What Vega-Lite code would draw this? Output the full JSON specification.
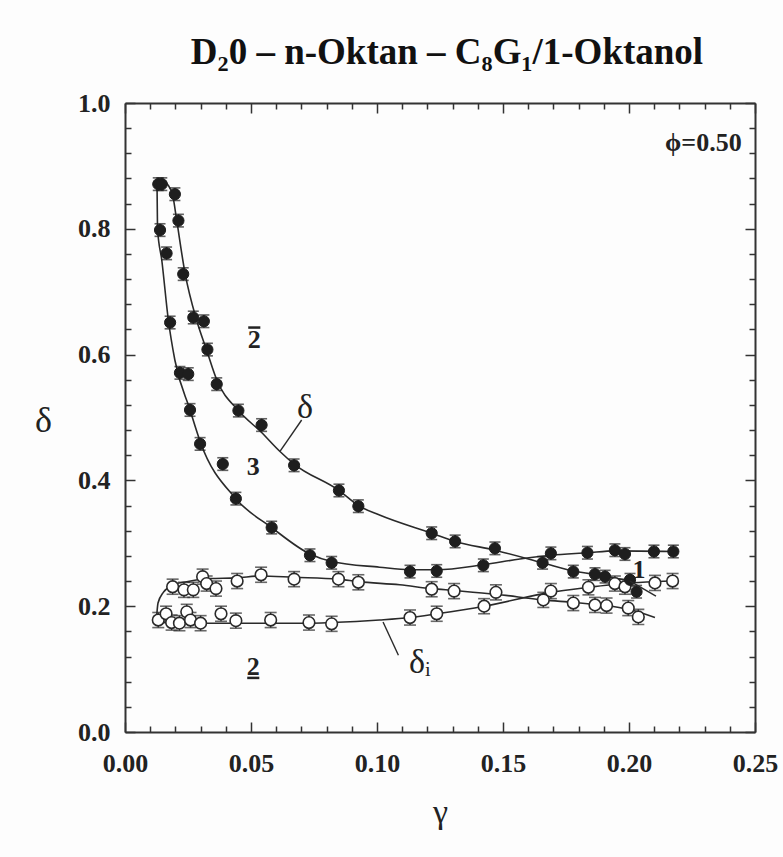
{
  "$schema": "https://vega.github.io/schema/vega-lite/v6.json",
  "width": 630,
  "height": 629,
  "autosize": {"type": "none"},
  "padding": {"left": 125, "top": 103, "right": 28, "bottom": 125},
  "background": "#fdfdfd",
  "config": {"view": {"stroke": null}},
  "title": {
    "text": "D₂0 – n-Oktan – C₈G₁/1-Oktanol",
    "font": "Liberation Serif",
    "fontSize": 37,
    "fontWeight": "bold",
    "color": "#111",
    "anchor": "middle",
    "dx": 7,
    "offset": -11,
    "baseline": "alphabetic"
  },
  "datasets": {
    "delta": [
      {"g": 0.0132, "d": 0.871, "e": 0.010}, {"g": 0.0146, "d": 0.871, "e": 0.010},
      {"g": 0.0198, "d": 0.855, "e": 0.010}, {"g": 0.0212, "d": 0.813, "e": 0.010},
      {"g": 0.0139, "d": 0.798, "e": 0.010}, {"g": 0.0165, "d": 0.761, "e": 0.010},
      {"g": 0.0231, "d": 0.728, "e": 0.010}, {"g": 0.0179, "d": 0.651, "e": 0.010},
      {"g": 0.0271, "d": 0.659, "e": 0.010}, {"g": 0.0313, "d": 0.653, "e": 0.010},
      {"g": 0.0327, "d": 0.608, "e": 0.010}, {"g": 0.0218, "d": 0.571, "e": 0.010},
      {"g": 0.0251, "d": 0.569, "e": 0.010}, {"g": 0.0364, "d": 0.553, "e": 0.010},
      {"g": 0.0258, "d": 0.512, "e": 0.010}, {"g": 0.0450, "d": 0.511, "e": 0.010},
      {"g": 0.0542, "d": 0.488, "e": 0.010}, {"g": 0.0298, "d": 0.458, "e": 0.010},
      {"g": 0.0388, "d": 0.426, "e": 0.010}, {"g": 0.0671, "d": 0.424, "e": 0.010},
      {"g": 0.0440, "d": 0.371, "e": 0.010}, {"g": 0.0849, "d": 0.384, "e": 0.010},
      {"g": 0.0926, "d": 0.359, "e": 0.010}, {"g": 0.0582, "d": 0.325, "e": 0.010},
      {"g": 0.0734, "d": 0.281, "e": 0.010}, {"g": 0.0820, "d": 0.269, "e": 0.010},
      {"g": 0.1131, "d": 0.255, "e": 0.010}, {"g": 0.1237, "d": 0.256, "e": 0.010},
      {"g": 0.1217, "d": 0.316, "e": 0.010}, {"g": 0.1310, "d": 0.303, "e": 0.010},
      {"g": 0.1468, "d": 0.292, "e": 0.010}, {"g": 0.1422, "d": 0.265, "e": 0.010},
      {"g": 0.1657, "d": 0.269, "e": 0.010}, {"g": 0.1690, "d": 0.284, "e": 0.010},
      {"g": 0.1779, "d": 0.255, "e": 0.010}, {"g": 0.1835, "d": 0.285, "e": 0.010},
      {"g": 0.1865, "d": 0.251, "e": 0.010}, {"g": 0.1905, "d": 0.247, "e": 0.010},
      {"g": 0.1944, "d": 0.289, "e": 0.010}, {"g": 0.1984, "d": 0.283, "e": 0.010},
      {"g": 0.2004, "d": 0.242, "e": 0.010}, {"g": 0.2030, "d": 0.223, "e": 0.010},
      {"g": 0.2099, "d": 0.287, "e": 0.010}, {"g": 0.2176, "d": 0.287, "e": 0.010}
    ],
    "deltaI": [
      {"g": 0.0132, "d": 0.178, "e": 0.012}, {"g": 0.0163, "d": 0.188, "e": 0.012},
      {"g": 0.0185, "d": 0.174, "e": 0.012}, {"g": 0.0216, "d": 0.173, "e": 0.012},
      {"g": 0.0245, "d": 0.191, "e": 0.012}, {"g": 0.0260, "d": 0.178, "e": 0.012},
      {"g": 0.0300, "d": 0.173, "e": 0.012}, {"g": 0.0381, "d": 0.188, "e": 0.012},
      {"g": 0.0440, "d": 0.177, "e": 0.012}, {"g": 0.0578, "d": 0.178, "e": 0.012},
      {"g": 0.0730, "d": 0.174, "e": 0.012}, {"g": 0.0820, "d": 0.172, "e": 0.012},
      {"g": 0.1131, "d": 0.182, "e": 0.012}, {"g": 0.1237, "d": 0.188, "e": 0.012},
      {"g": 0.1425, "d": 0.200, "e": 0.012}, {"g": 0.1690, "d": 0.224, "e": 0.012},
      {"g": 0.1839, "d": 0.230, "e": 0.012}, {"g": 0.1944, "d": 0.236, "e": 0.012},
      {"g": 0.1984, "d": 0.231, "e": 0.012}, {"g": 0.2103, "d": 0.237, "e": 0.012},
      {"g": 0.2173, "d": 0.240, "e": 0.012},
      {"g": 0.0189, "d": 0.231, "e": 0.012}, {"g": 0.0234, "d": 0.226, "e": 0.012},
      {"g": 0.0271, "d": 0.226, "e": 0.012}, {"g": 0.0308, "d": 0.247, "e": 0.012},
      {"g": 0.0324, "d": 0.236, "e": 0.012}, {"g": 0.0361, "d": 0.228, "e": 0.012},
      {"g": 0.0445, "d": 0.240, "e": 0.012}, {"g": 0.0540, "d": 0.250, "e": 0.012},
      {"g": 0.0671, "d": 0.243, "e": 0.012}, {"g": 0.0847, "d": 0.243, "e": 0.012},
      {"g": 0.0926, "d": 0.238, "e": 0.012}, {"g": 0.1217, "d": 0.227, "e": 0.012},
      {"g": 0.1306, "d": 0.224, "e": 0.012}, {"g": 0.1472, "d": 0.222, "e": 0.012},
      {"g": 0.1660, "d": 0.210, "e": 0.012}, {"g": 0.1779, "d": 0.205, "e": 0.012},
      {"g": 0.1865, "d": 0.202, "e": 0.012}, {"g": 0.1911, "d": 0.201, "e": 0.012},
      {"g": 0.1997, "d": 0.197, "e": 0.012}, {"g": 0.2037, "d": 0.183, "e": 0.012}
    ],
    "curves": [
      {"c": "d_oben", "g": 0.0127, "d": 0.873}, {"c": "d_oben", "g": 0.0150, "d": 0.875},
      {"c": "d_oben", "g": 0.0172, "d": 0.869}, {"c": "d_oben", "g": 0.0190, "d": 0.852},
      {"c": "d_oben", "g": 0.0205, "d": 0.814}, {"c": "d_oben", "g": 0.0238, "d": 0.730},
      {"c": "d_oben", "g": 0.0284, "d": 0.655}, {"c": "d_oben", "g": 0.0324, "d": 0.607},
      {"c": "d_oben", "g": 0.0364, "d": 0.560}, {"c": "d_oben", "g": 0.0450, "d": 0.511},
      {"c": "d_oben", "g": 0.0540, "d": 0.477}, {"c": "d_oben", "g": 0.0615, "d": 0.446},
      {"c": "d_oben", "g": 0.0671, "d": 0.426}, {"c": "d_oben", "g": 0.0849, "d": 0.384},
      {"c": "d_oben", "g": 0.0926, "d": 0.360}, {"c": "d_oben", "g": 0.1010, "d": 0.345},
      {"c": "d_oben", "g": 0.1217, "d": 0.316}, {"c": "d_oben", "g": 0.1310, "d": 0.303},
      {"c": "d_oben", "g": 0.1468, "d": 0.289}, {"c": "d_oben", "g": 0.1657, "d": 0.269},
      {"c": "d_oben", "g": 0.1779, "d": 0.256}, {"c": "d_oben", "g": 0.1905, "d": 0.248},
      {"c": "d_oben", "g": 0.2004, "d": 0.240},
      {"c": "d_unten", "g": 0.0127, "d": 0.873}, {"c": "d_unten", "g": 0.0129, "d": 0.800},
      {"c": "d_unten", "g": 0.0146, "d": 0.750}, {"c": "d_unten", "g": 0.0172, "d": 0.655},
      {"c": "d_unten", "g": 0.0198, "d": 0.591}, {"c": "d_unten", "g": 0.0258, "d": 0.512},
      {"c": "d_unten", "g": 0.0298, "d": 0.462}, {"c": "d_unten", "g": 0.0440, "d": 0.371},
      {"c": "d_unten", "g": 0.0582, "d": 0.325}, {"c": "d_unten", "g": 0.0734, "d": 0.283},
      {"c": "d_unten", "g": 0.0820, "d": 0.271}, {"c": "d_unten", "g": 0.1010, "d": 0.262},
      {"c": "d_unten", "g": 0.1131, "d": 0.258}, {"c": "d_unten", "g": 0.1237, "d": 0.258},
      {"c": "d_unten", "g": 0.1422, "d": 0.266}, {"c": "d_unten", "g": 0.1567, "d": 0.275},
      {"c": "d_unten", "g": 0.1690, "d": 0.281}, {"c": "d_unten", "g": 0.1835, "d": 0.285},
      {"c": "d_unten", "g": 0.1944, "d": 0.288}, {"c": "d_unten", "g": 0.2176, "d": 0.287},
      {"c": "di_oben", "g": 0.0125, "d": 0.180}, {"c": "di_oben", "g": 0.0131, "d": 0.205},
      {"c": "di_oben", "g": 0.0152, "d": 0.222}, {"c": "di_oben", "g": 0.0192, "d": 0.234},
      {"c": "di_oben", "g": 0.0245, "d": 0.239}, {"c": "di_oben", "g": 0.0337, "d": 0.244},
      {"c": "di_oben", "g": 0.0443, "d": 0.245}, {"c": "di_oben", "g": 0.0536, "d": 0.248},
      {"c": "di_oben", "g": 0.0670, "d": 0.246}, {"c": "di_oben", "g": 0.0847, "d": 0.243},
      {"c": "di_oben", "g": 0.0926, "d": 0.239}, {"c": "di_oben", "g": 0.1090, "d": 0.234},
      {"c": "di_oben", "g": 0.1217, "d": 0.228}, {"c": "di_oben", "g": 0.1306, "d": 0.225},
      {"c": "di_oben", "g": 0.1472, "d": 0.219}, {"c": "di_oben", "g": 0.1660, "d": 0.210},
      {"c": "di_oben", "g": 0.1780, "d": 0.206}, {"c": "di_oben", "g": 0.1910, "d": 0.201},
      {"c": "di_oben", "g": 0.1997, "d": 0.195}, {"c": "di_oben", "g": 0.2103, "d": 0.182},
      {"c": "di_unten", "g": 0.0125, "d": 0.174}, {"c": "di_unten", "g": 0.0300, "d": 0.173},
      {"c": "di_unten", "g": 0.0500, "d": 0.173}, {"c": "di_unten", "g": 0.0730, "d": 0.173},
      {"c": "di_unten", "g": 0.0820, "d": 0.174}, {"c": "di_unten", "g": 0.1010, "d": 0.178},
      {"c": "di_unten", "g": 0.1131, "d": 0.182}, {"c": "di_unten", "g": 0.1237, "d": 0.188},
      {"c": "di_unten", "g": 0.1425, "d": 0.200}, {"c": "di_unten", "g": 0.1690, "d": 0.222},
      {"c": "di_unten", "g": 0.1840, "d": 0.230}, {"c": "di_unten", "g": 0.1944, "d": 0.235},
      {"c": "di_unten", "g": 0.2173, "d": 0.240}
    ],
    "leaders": [
      {"g": 0.0615, "d": 0.446, "g2": 0.0701, "d2": 0.496},
      {"g": 0.1024, "d": 0.175, "g2": 0.1085, "d2": 0.122},
      {"g": 0.2004, "d": 0.240, "g2": 0.2107, "d2": 0.216}
    ],
    "bars": [
      {"g": 0.0489, "d": 0.643, "g2": 0.0537, "d2": 0.643},
      {"g": 0.0485, "d": 0.086, "g2": 0.0533, "d2": 0.086}
    ],
    "numLabels": [
      {"g": 0.0513, "d": 0.624, "t": "2"},
      {"g": 0.0509, "d": 0.421, "t": "3"},
      {"g": 0.0509, "d": 0.104, "t": "2"},
      {"g": 0.2040, "d": 0.258, "t": "1"}
    ],
    "greekLabels": [
      {"g": 0.0714, "d": 0.515, "t": "δ"},
      {"g": 0.1170, "d": 0.109, "t": "δᵢ"}
    ],
    "phiLabel": [
      {"g": 0.2447, "d": 0.936, "t": "ϕ=0.50"}
    ]
  },
  "resolve": {"axis": {"x": "independent", "y": "independent"}},
  "layer": [
    {
      "data": {"name": "curves"},
      "mark": {"type": "line", "interpolate": "monotone", "color": "#2a2a2a", "strokeWidth": 1.6},
      "encoding": {
        "x": {
          "field": "g", "type": "quantitative",
          "scale": {"domain": [0, 0.25], "nice": false, "zero": false},
          "axis": {
            "orient": "bottom",
            "values": [0, 0.01, 0.02, 0.03, 0.04, 0.05, 0.06, 0.07, 0.08, 0.09, 0.1, 0.11, 0.12, 0.13, 0.14, 0.15, 0.16, 0.17, 0.18, 0.19, 0.2, 0.21, 0.22, 0.23, 0.24, 0.25],
            "labelExpr": "round(datum.value*100) % 5 === 0 ? format(datum.value, '.2f') : ''",
            "tickSize": {"condition": {"test": "round(datum.value*100) % 5 === 0", "value": -10}, "value": -6},
            "tickColor": "#333", "tickWidth": 1.5,
            "domainColor": "#333", "domainWidth": 2,
            "grid": false,
            "labelFont": "Liberation Serif", "labelFontWeight": "bold", "labelFontSize": 26,
            "labelColor": "#222", "labelPadding": 28, "labelFlush": false, "labelOverlap": false, "labelBound": false,
            "title": "γ", "titleFont": "Liberation Serif", "titleFontWeight": "normal", "titleFontSize": 34,
            "titleColor": "#222", "titleX": 315, "titleY": 80, "titleAlign": "center", "titleBaseline": "middle"
          }
        },
        "y": {
          "field": "d", "type": "quantitative",
          "scale": {"domain": [0, 1], "nice": false, "zero": false},
          "axis": {
            "orient": "left",
            "values": [0, 0.04, 0.08, 0.12, 0.16, 0.2, 0.24, 0.28, 0.32, 0.36, 0.4, 0.44, 0.48, 0.52, 0.56, 0.6, 0.64, 0.68, 0.72, 0.76, 0.8, 0.84, 0.88, 0.92, 0.96, 1],
            "labelExpr": "round(datum.value*100) % 20 === 0 ? format(datum.value, '.1f') : ''",
            "tickSize": {"condition": {"test": "round(datum.value*100) % 20 === 0", "value": -10}, "value": -6},
            "tickColor": "#333", "tickWidth": 1.5,
            "domainColor": "#333", "domainWidth": 2,
            "grid": false,
            "labelFont": "Liberation Serif", "labelFontWeight": "bold", "labelFontSize": 26,
            "labelColor": "#222", "labelPadding": 25, "labelFlush": false, "labelOverlap": false, "labelBound": false,
            "title": "δ", "titleFont": "Liberation Serif", "titleFontWeight": "normal", "titleFontSize": 36,
            "titleColor": "#222", "titleAngle": 0, "titleX": -82, "titleY": 317, "titleAlign": "center", "titleBaseline": "middle"
          }
        },
        "detail": {"field": "c"}
      }
    },
    {
      "data": {"name": "deltaI"},
      "mark": {"type": "errorbar", "ticks": {"size": 12, "color": "#2a2a2a", "thickness": 1.6}, "rule": {"color": "#2a2a2a", "strokeWidth": 1.4}},
      "encoding": {
        "x": {
          "field": "g", "type": "quantitative",
          "axis": {
            "orient": "top",
            "values": [0, 0.01, 0.02, 0.03, 0.04, 0.05, 0.06, 0.07, 0.08, 0.09, 0.1, 0.11, 0.12, 0.13, 0.14, 0.15, 0.16, 0.17, 0.18, 0.19, 0.2, 0.21, 0.22, 0.23, 0.24, 0.25],
            "labels": false, "title": null, "grid": false,
            "tickSize": {"condition": {"test": "round(datum.value*100) % 5 === 0", "value": -10}, "value": -6},
            "tickColor": "#333", "tickWidth": 1.5, "domainColor": "#333", "domainWidth": 2
          }
        },
        "y": {
          "field": "d", "type": "quantitative",
          "axis": {
            "orient": "right",
            "values": [0, 0.04, 0.08, 0.12, 0.16, 0.2, 0.24, 0.28, 0.32, 0.36, 0.4, 0.44, 0.48, 0.52, 0.56, 0.6, 0.64, 0.68, 0.72, 0.76, 0.8, 0.84, 0.88, 0.92, 0.96, 1],
            "labels": false, "title": null, "grid": false,
            "tickSize": {"condition": {"test": "round(datum.value*100) % 20 === 0", "value": -10}, "value": -6},
            "tickColor": "#333", "tickWidth": 1.5, "domainColor": "#333", "domainWidth": 2
          }
        },
        "yError": {"field": "e"}
      }
    },
    {
      "data": {"name": "delta"},
      "mark": {"type": "errorbar", "ticks": {"size": 11, "color": "#1e1e1e", "thickness": 1.6}, "rule": {"color": "#1e1e1e", "strokeWidth": 1.4}},
      "encoding": {
        "x": {"field": "g", "type": "quantitative", "axis": null},
        "y": {"field": "d", "type": "quantitative", "axis": null},
        "yError": {"field": "e"}
      }
    },
    {
      "data": {"name": "deltaI"},
      "mark": {"type": "point", "shape": "circle", "filled": true, "fill": "#ffffff", "stroke": "#2a2a2a", "strokeWidth": 1.6, "size": 135, "opacity": 1},
      "encoding": {
        "x": {"field": "g", "type": "quantitative", "axis": null},
        "y": {"field": "d", "type": "quantitative", "axis": null}
      }
    },
    {
      "data": {"name": "delta"},
      "mark": {"type": "point", "shape": "circle", "filled": true, "fill": "#1e1e1e", "stroke": "#1e1e1e", "strokeWidth": 1, "size": 125, "opacity": 1},
      "encoding": {
        "x": {"field": "g", "type": "quantitative", "axis": null},
        "y": {"field": "d", "type": "quantitative", "axis": null}
      }
    },
    {
      "data": {"name": "leaders"},
      "mark": {"type": "rule", "color": "#2a2a2a", "strokeWidth": 1.4},
      "encoding": {
        "x": {"field": "g", "type": "quantitative", "axis": null},
        "y": {"field": "d", "type": "quantitative", "axis": null},
        "x2": {"field": "g2"},
        "y2": {"field": "d2"}
      }
    },
    {
      "data": {"name": "bars"},
      "mark": {"type": "rule", "color": "#222", "strokeWidth": 2.5},
      "encoding": {
        "x": {"field": "g", "type": "quantitative", "axis": null},
        "y": {"field": "d", "type": "quantitative", "axis": null},
        "x2": {"field": "g2"},
        "y2": {"field": "d2"}
      }
    },
    {
      "data": {"name": "numLabels"},
      "mark": {"type": "text", "font": "Liberation Serif", "fontWeight": "bold", "fontSize": 26, "color": "#222", "align": "center", "baseline": "middle"},
      "encoding": {
        "x": {"field": "g", "type": "quantitative", "axis": null},
        "y": {"field": "d", "type": "quantitative", "axis": null},
        "text": {"field": "t"}
      }
    },
    {
      "data": {"name": "greekLabels"},
      "mark": {"type": "text", "font": "Liberation Serif", "fontWeight": "normal", "fontSize": 34, "color": "#222", "align": "center", "baseline": "middle"},
      "encoding": {
        "x": {"field": "g", "type": "quantitative", "axis": null},
        "y": {"field": "d", "type": "quantitative", "axis": null},
        "text": {"field": "t"}
      }
    },
    {
      "data": {"name": "phiLabel"},
      "mark": {"type": "text", "font": "Liberation Serif", "fontWeight": "bold", "fontSize": 26, "color": "#222", "align": "right", "baseline": "middle"},
      "encoding": {
        "x": {"field": "g", "type": "quantitative", "axis": null},
        "y": {"field": "d", "type": "quantitative", "axis": null},
        "text": {"field": "t"}
      }
    }
  ]
}
